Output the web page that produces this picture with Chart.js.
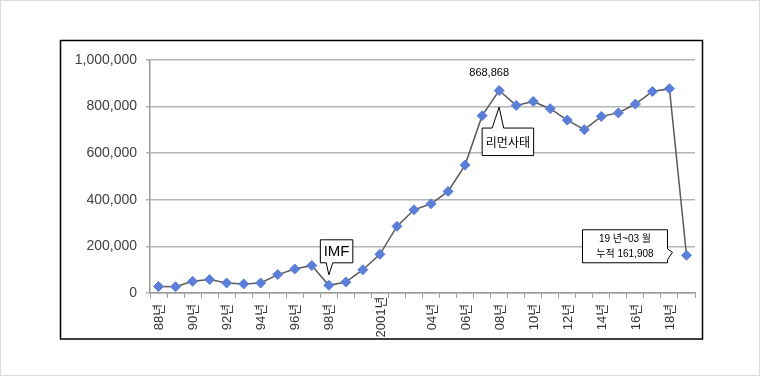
<!DOCTYPE html>
<html><head><meta charset="utf-8">
<script src="https://cdn.jsdelivr.net/npm/chart.js@4"></script>
<style>html,body{margin:0;padding:0;background:#fff;}canvas{display:block;}</style>
</head><body>
<canvas id="c" width="760" height="376"></canvas>
<script>
const categories = ['88','89','90','91','92','93','94','95','96','97','98','99','00','01','02','03','04','05','06','07','08','09','10','11','12','13','14','15','16','17','18','19'];
const tickLabels = ['88년','','90년','','92년','','94년','','96년','','98년','','','2001년','','','04년','','06년','','08년','','10년','','12년','','14년','','16년','','18년',''];
const values = [28000,27000,50000,58000,43000,39000,43000,79000,103000,118000,33000,47000,100000,166000,286000,357000,383000,436000,549000,761000,868868,805000,822000,791000,742000,701000,758000,773000,811000,865000,877000,161908];
const yTicks = [0,200000,400000,600000,800000,1000000];
const peakIndex = 20;
const peakText = '868,868';
const imfIndex = 10;
const imfText = 'IMF';
const lehmanIndex = 20;
const lehmanText = '리먼사태';
const lastIndex = 31;
const lastLines = ['19 년~03 월','누적 161,908'];

function poly(ctx, pts){
  ctx.beginPath();
  ctx.moveTo(pts[0][0], pts[0][1]);
  for (let i=1;i<pts.length;i++) ctx.lineTo(pts[i][0], pts[i][1]);
  ctx.closePath();
  ctx.fillStyle='#fff'; ctx.fill();
  ctx.strokeStyle='#000'; ctx.lineWidth=1; ctx.stroke();
}

const framePlugin = {
  id:'frame',
  beforeDraw(chart){
    const ctx = chart.ctx;
    ctx.save();
    ctx.fillStyle='#fff'; ctx.fillRect(0,0,760,376);
    ctx.strokeStyle='#dcdcdc'; ctx.lineWidth=1; ctx.strokeRect(0.5,0.5,759,375);
    ctx.strokeStyle='#000'; ctx.lineWidth=1.5; ctx.strokeRect(60.5,40.5,642,298.5);
    ctx.restore();
  },
  afterDraw(chart){
    const ctx = chart.ctx, xs = chart.scales.x, ys = chart.scales.y;
    // x labels
    ctx.save();
    ctx.beginPath(); ctx.rect(61,41,641,297.5); ctx.clip();
    ctx.font = '13px "Liberation Sans", "Noto Sans CJK KR"';
    ctx.fillStyle='#333'; ctx.textAlign='center'; ctx.textBaseline='middle';
    tickLabels.forEach((t,i)=>{
      if(!t) return;
      const x = xs.getPixelForValue(i);
      ctx.save(); ctx.translate(x+1, 317); ctx.rotate(-Math.PI/2); ctx.fillText(t,0,0); ctx.restore();
    });
    ctx.restore();

    ctx.save();
    // peak value
    let px = xs.getPixelForValue(peakIndex), py = ys.getPixelForValue(values[peakIndex]);
    ctx.font='11px "Liberation Sans"'; ctx.fillStyle='#000'; ctx.textAlign='center'; ctx.textBaseline='middle';
    ctx.fillText(peakText, px-10, py-17.5);

    // IMF callout
    px = xs.getPixelForValue(imfIndex); py = ys.getPixelForValue(values[imfIndex]);
    let L=px-8.5, T=py-45.5, R=px+24, B=py-22.5;
    poly(ctx, [[L,T],[R,T],[R,B],[px+4,B],[px,py-10.5],[px-2.6,B],[L,B]]);
    ctx.font='15px "Liberation Sans"'; ctx.fillStyle='#000'; ctx.textAlign='center'; ctx.textBaseline='middle';
    ctx.fillText(imfText,(L+R)/2,(T+B)/2+0.5);

    // Lehman callout
    px = xs.getPixelForValue(lehmanIndex); py = ys.getPixelForValue(values[lehmanIndex]);
    L=px-17; T=py+37.5; R=px+34.5; B=py+65;
    poly(ctx, [[L,T],[px-7,T],[px,py+16.5],[px+4.5,T],[R,T],[R,B],[L,B]]);
    ctx.font='12px "Noto Sans CJK KR"'; ctx.fillStyle='#000';
    ctx.fillText(lehmanText,(L+R)/2,(T+B)/2+0.5);

    // last point callout
    px = xs.getPixelForValue(lastIndex); py = ys.getPixelForValue(values[lastIndex]);
    L=px-104; T=py-25.5; R=px-19; B=py+7.5;
    poly(ctx, [[L,T],[R,T],[R,py-6.5],[px-14,py-3],[R,py+4.5],[R,B],[L,B]]);
    ctx.font='10px "Liberation Sans", "Noto Sans CJK KR"'; ctx.fillStyle='#000';
    ctx.fillText(lastLines[0],(L+R)/2,py-16);
    ctx.fillText(lastLines[1],(L+R)/2,py-1.5);
    ctx.restore();
  }
};

new Chart(document.getElementById('c').getContext('2d'), {
  type:'line',
  data:{labels:categories, datasets:[{
    data:values, borderColor:'#595959', borderWidth:1.5, tension:0,
    pointStyle:'rectRot', pointRadius:5, pointBackgroundColor:'#5B7FD9', pointBorderColor:'#5B7FD9', pointBorderWidth:1, clip:false
  }]},
  options:{
    responsive:false, animation:false, devicePixelRatio:1,
    layout:{padding:{left:0,right:65,top:60,bottom:0}},
    plugins:{legend:{display:false}, tooltip:{enabled:false}},
    scales:{
      x:{type:'category', offset:true,
        grid:{offset:true, drawOnChartArea:false, drawTicks:true, tickLength:5, color:'#9a9a9a', lineWidth:1},
        border:{color:'#9a9a9a', width:1.5},
        ticks:{display:false},
        afterFit(s){ s.height = 83; }
      },
      y:{min:0, max:1000000,
        afterBuildTicks(s){ s.ticks = yTicks.map(v=>({value:v})); },
        grid:{color:'#b4b4b4', lineWidth:1.5, tickLength:4},
        border:{color:'#9a9a9a', width:1.5},
        ticks:{padding:9, color:'#404040', font:{family:'Liberation Sans', size:14}, callback:v=>Number(v).toLocaleString('en-US')},
        afterFit(s){ s.width = 150; }
      }
    }
  },
  plugins:[framePlugin]
});
</script>
</body></html>
